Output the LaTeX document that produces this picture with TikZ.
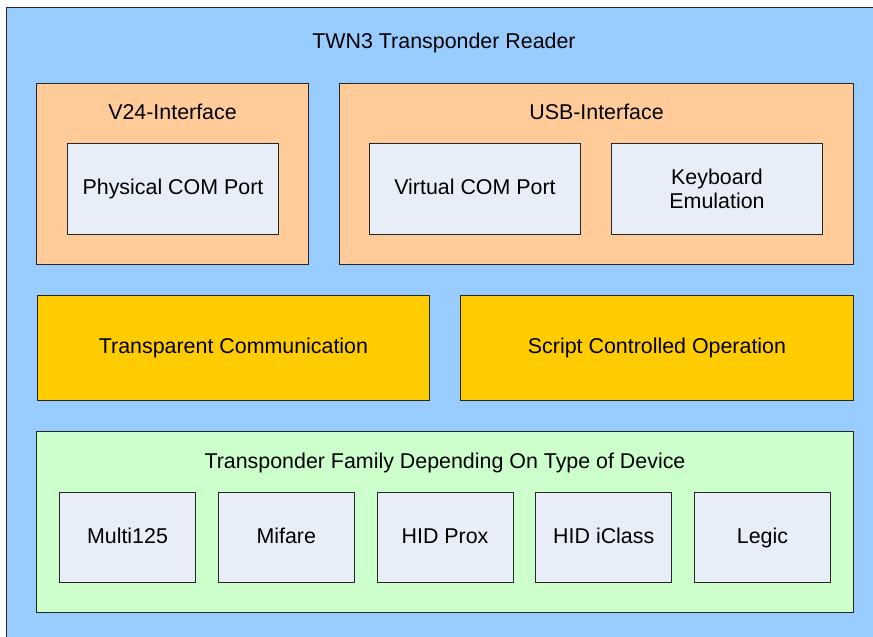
\documentclass[tikz,border=0pt]{standalone}
\usepackage{fontspec}
\setmainfont{Liberation Sans}
\usetikzlibrary{positioning}
\definecolor{readerblue}{HTML}{99CCFF}
\definecolor{ifaceorange}{HTML}{FFCC99}
\definecolor{portgrey}{HTML}{E8EEF8}
\definecolor{modeyellow}{HTML}{FFCC00}
\definecolor{familygreen}{HTML}{CCFFCC}
\begin{document}
\begin{tikzpicture}[x=0.5pt, y=-0.5pt,
		every node/.style={font=\fontsize{10.7}{12.5}\selectfont},
		box/.style={draw=black!85, line width=0.5pt, anchor=north west, inner sep=0pt, align=center},
		line/.style={text height=7.8pt, text depth=2.2pt},
		group/.style={box, minimum width=#1, minimum height=90.5pt},
		port/.style={box, fill=portgrey, minimum width=105.5pt, minimum height=45.5pt},
		mode/.style={box, line, fill=modeyellow, minimum width=196pt, minimum height=52.5pt},
		chip/.style={box, line, fill=portgrey, minimum width=68pt, minimum height=45pt},
		title/.style={inner sep=0pt}]
		\useasboundingbox[fill=white] (0,0) rectangle (873,637);
		\clip (0,0) rectangle (873,637);
		% reader frame
		\node[box, fill=readerblue, minimum width=440pt, minimum height=320pt] (reader) at (6,7) {};
		\node[title] (readertitle) at (444,43) {TWN3 Transponder Reader};
		% interfaces
		\node[group=136pt, fill=ifaceorange] (v24) at (36,83) {};
		\node[title, below=10.5pt of v24.north] (v24title) {V24-Interface};
		\node[port, line] (physcom) at (67,143) {Physical COM Port};
		\node[group=257pt, fill=ifaceorange] (usb) at (339,83) {};
		\node[title, below=10.5pt of usb.north] (usbtitle) {USB-Interface};
		\node[port, line] (virtcom) at (369,143) {Virtual COM Port};
		\node[port] (keyboard) at (611,143) {Keyboard\\[-0.5pt]Emulation};
		% operating modes
		\node[mode] (transparent) at (37,295) {Transparent Communication};
		\node[mode, minimum width=196.5pt] (script) at (460,295) {Script Controlled Operation};
		% transponder families
		\node[group=408.5pt, fill=familygreen] (family) at (36,431) {};
		\node[title, below=11pt of family.north] (familytitle) {Transponder Family Depending On Type of Device};
		\foreach \name [count=\i from 0] in {Multi125, Mifare, HID Prox, HID iClass, Legic}
			\node[chip] (chip-\i) at (59+158.75*\i,492) {\name};
	\end{tikzpicture}
\end{document}
